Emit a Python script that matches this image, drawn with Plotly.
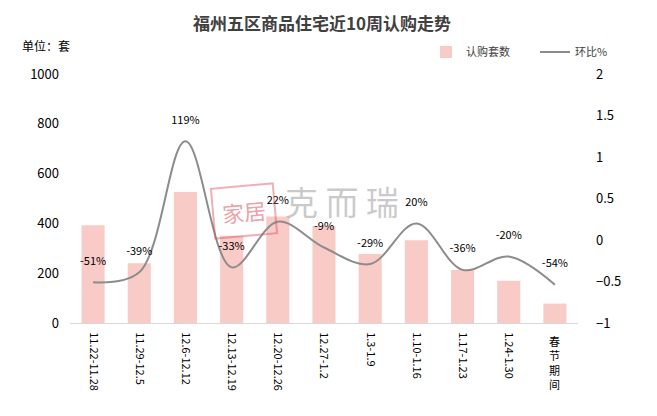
import plotly.graph_objects as go

# 周次（横轴类目）
weeks = ["11.22-11.28", "11.29-12.5", "12.6-12.12", "12.13-12.19", "12.20-12.26",
         "12.27-1.2", "1.3-1.9", "1.10-1.16", "1.17-1.23", "1.24-1.30", "春节期间"]
# 认购套数
units = [393, 240, 526, 350, 428, 390, 277, 332, 213, 170, 78]
# 环比
mom = [-0.51, -0.39, 1.19, -0.33, 0.22, -0.09, -0.29, 0.20, -0.36, -0.20, -0.54]
mom_labels = ["-51%", "-39%", "119%", "-33%", "22%", "-9%", "-29%", "20%", "-36%", "-20%", "-54%"]

FONT = "Noto Sans CJK SC, Microsoft YaHei, sans-serif"

# page has an 8px body margin, so the figure is a bit smaller than the window
OFF = 8
W, H = 657 - OFF, 416 - OFF
# plot area in screen pixels: x 70..578, y 74..323
L, T = 70 - OFF, 74 - OFF
PW, PH = 508, 249
R, B = W - L - PW, H - T - PH


def px(x):
    return (x - OFF - L) / PW


def py(y):
    return (T + PH - (y - OFF)) / PH


fig = go.Figure()

fig.add_trace(go.Bar(
    name="认购套数", x=weeks, y=units, yaxis="y",
    marker=dict(color="#f8cbc6", line=dict(width=0)),
    width=0.5,
))

fig.add_trace(go.Scatter(
    name="环比%", x=weeks, y=mom, yaxis="y2",
    mode="lines",
    line=dict(color="#8c8c8c", width=2, shape="spline", smoothing=1.0),
))

# 数据标签（单独一层，透明点把文字往上推）
fig.add_trace(go.Scatter(
    x=weeks, y=mom, yaxis="y2", showlegend=False, hoverinfo="skip",
    mode="markers+text",
    marker=dict(size=22, opacity=0),
    text=mom_labels, textposition="top center",
    textfont=dict(size=11, color="#000000", family=FONT),
    cliponaxis=False,
))

# 横轴标签：日期竖排旋转，春节期间逐字竖排
tick_text = [w if w != "春节期间" else "" for w in weeks]
fig.add_annotation(x=weeks[-1], y=py(331), xref="x", yref="paper",
                   text="<br>".join(list(weeks[-1])), showarrow=False,
                   yanchor="top",
                   font=dict(size=11, color="#000000", family=FONT))

# 水印
fig.add_annotation(x=px(244), y=py(211), xref="paper", yref="paper",
                   text="家居", showarrow=False, textangle=-5,
                   font=dict(size=22, color="rgba(220,80,90,0.55)", family=FONT),
                   bordercolor="rgba(220,80,90,0.45)", borderwidth=2, borderpad=8)
fig.add_annotation(x=px(342), y=py(201), xref="paper", yref="paper",
                   text="克 而 瑞", showarrow=False,
                   font=dict(size=33, color="rgba(150,150,150,0.5)", family=FONT))

# 标题与单位
fig.add_annotation(x=px(322), y=py(22), xref="paper", yref="paper", showarrow=False,
                   xanchor="center", yanchor="middle",
                   text="<b>福州五区商品住宅近10周认购走势</b>",
                   font=dict(size=17, color="#404040", family=FONT))
fig.add_annotation(x=px(20), y=py(45), xref="paper", yref="paper",
                   xanchor="left", yanchor="middle", showarrow=False,
                   text="单位：套", font=dict(size=12, color="#000000", family=FONT))

fig.update_layout(
    width=W, height=H,
    margin=dict(l=L, r=R, t=T, b=B, autoexpand=False),
    paper_bgcolor="white", plot_bgcolor="white",
    font=dict(family=FONT, size=12, color="#000000"),
    bargap=0.5,
    showlegend=True,
    legend=dict(orientation="h", xref="container", yref="container",
                x=(426 - OFF) / W, xanchor="left", y=1 - (52 - OFF) / H,
                yanchor="middle", font=dict(size=11, color="#404040", family=FONT),
                itemwidth=30, entrywidth=64, bgcolor="rgba(0,0,0,0)"),
    xaxis=dict(tickmode="array", tickvals=weeks, ticktext=tick_text, tickangle=90,
               range=[-0.5, len(weeks) - 0.5], ticklabelstandoff=6,
               showline=True, linecolor="#d9d9d9", linewidth=1, ticks="",
               automargin=False, showgrid=False, tickfont=dict(size=11, color="#000000")),
    yaxis=dict(range=[0, 1000], dtick=200, showgrid=False, zeroline=False,
               automargin=False, showline=False, ticks="", ticklabelstandoff=10,
               tickfont=dict(size=13, color="#000000")),
    yaxis2=dict(range=[-1, 2], dtick=0.5, overlaying="y", side="right",
                automargin=False, showgrid=False, zeroline=False, showline=False, ticks="",
                ticklabelstandoff=17, tickfont=dict(size=13, color="#000000")),
)

fig.write_html("out.html")
